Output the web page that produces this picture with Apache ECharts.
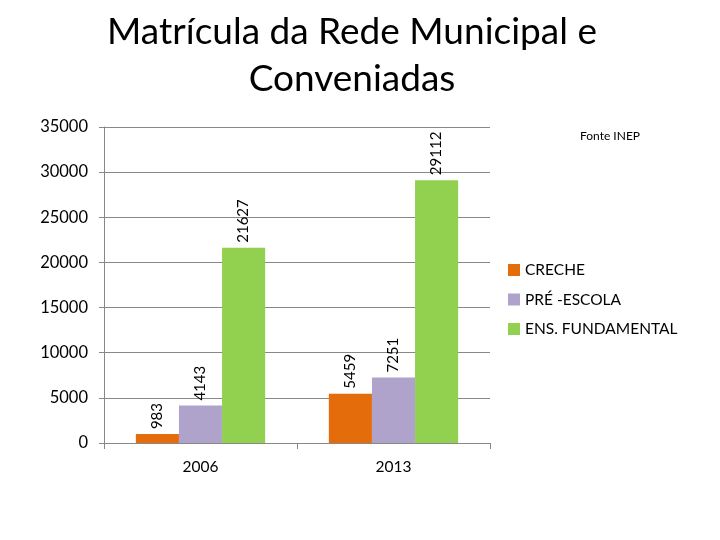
<!DOCTYPE html>
<html><head><meta charset="utf-8">
<script src="https://cdn.jsdelivr.net/npm/echarts@6/dist/echarts.min.js"></script>
<style>html,body{margin:0;padding:0;background:#fff}#c{width:720px;height:540px}</style>
</head><body><div id="c"></div>
<script>
const categories = ['2006', '2013'];
const creche = [983, 5459];
const preEscola = [4143, 7251];
const ensFundamental = [21627, 29112];
const seriesNames = ['CRECHE', 'PRÉ -ESCOLA', 'ENS. FUNDAMENTAL'];
const colors = ['#E46C0A', '#AFA3CB', '#92D050'];
const FONT = 'Lato, "Open Sans", sans-serif';

const chart = echarts.init(document.getElementById('c'));
const lbl = {show: true, position: 'top', rotate: 90, align: 'left', verticalAlign: 'middle', distance: 5, color: '#000', fontSize: 15, fontFamily: FONT};
chart.setOption({
  animation: false,
  title: [
    {text: 'Matrícula da Rede Municipal e\nConveniadas', left: 347, top: 4, textAlign: 'center',
     textStyle: {fontSize: 37, fontWeight: 'normal', color: '#000', fontFamily: FONT, lineHeight: 47}},
    {text: 'Fonte INEP', left: 575, top: 125, textStyle: {fontSize: 12, fontWeight: 'normal', color: '#000', fontFamily: FONT}}
  ],
  legend: {
    orient: 'vertical', left: 503, top: 257, itemWidth: 12, itemHeight: 12, itemGap: 13.5,
    icon: 'rect', textStyle: {fontSize: 15.5, color: '#000', fontFamily: FONT},
    data: seriesNames
  },
  grid: {left: 104, right: 230, top: 127, bottom: 97},
  xAxis: {
    type: 'category', data: categories,
    axisLine: {lineStyle: {color: '#888'}},
    axisTick: {show: true, length: 6, lineStyle: {color: '#888'}},
    axisLabel: {fontSize: 15.5, color: '#000', fontFamily: FONT, margin: 16}
  },
  yAxis: {
    type: 'value', min: 0, max: 35000, interval: 5000,
    axisLine: {show: true, lineStyle: {color: '#888'}},
    axisTick: {show: true, length: 5, lineStyle: {color: '#888'}},
    splitLine: {lineStyle: {color: '#888'}},
    axisLabel: {fontSize: 16.5, color: '#000', fontFamily: FONT, margin: 16, formatter: v => String(v)}
  },
  series: [
    {name: seriesNames[0], type: 'bar', data: creche, itemStyle: {color: colors[0]}, label: lbl, barGap: '0%', barCategoryGap: '33%'},
    {name: seriesNames[1], type: 'bar', data: preEscola, itemStyle: {color: colors[1]}, label: lbl},
    {name: seriesNames[2], type: 'bar', data: ensFundamental, itemStyle: {color: colors[2]}, label: lbl}
  ]
});
</script></body></html>
